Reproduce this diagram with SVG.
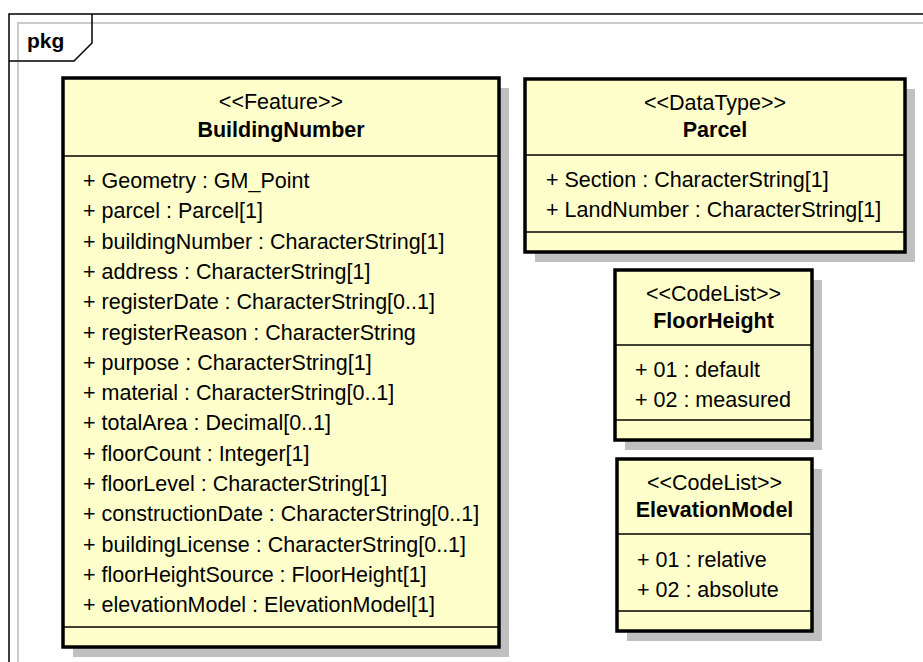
<svg xmlns="http://www.w3.org/2000/svg" width="923" height="662" viewBox="0 0 923 662">
<style>
text{font-family:"Liberation Sans",Arial,sans-serif;font-size:21.5px;fill:#000}
.b{font-weight:bold}
.c{text-anchor:middle}
.p{font-size:21px}
.box{fill:#ffffcc;stroke:#000;stroke-width:3.5}
.sh{fill:#c0c0c0}
.div{stroke:#000;stroke-width:1.5}
.frame{fill:none;stroke:#000;stroke-width:1.5}
.inner{fill:none;stroke:#cacaca;stroke-width:2}
</style>
<rect width="923" height="662" fill="#fff"/>
<g id="package">
<path class="inner" d="M18,670 V23 H930"/>
<path class="frame" d="M9,670 V14 H930"/>
<path class="frame" d="M9,61 H74 L92,43 V14"/>
<text class="b p" x="27" y="48">pkg</text>
</g>
<g id="BuildingNumber">
<rect class="sh" x="73" y="88" width="436" height="569"/>
<rect class="box" x="63" y="78" width="436" height="569"/>
<line class="div" x1="63" y1="156" x2="499" y2="156"/>
<line class="div" x1="63" y1="627" x2="499" y2="627"/>
<text class="c" x="281" y="109">&lt;&lt;Feature&gt;&gt;</text>
<text class="b c" x="281" y="137">BuildingNumber</text>
<text x="83" y="188">+ Geometry : GM_Point</text>
<text x="83" y="218">+ parcel : Parcel[1]</text>
<text x="83" y="249">+ buildingNumber : CharacterString[1]</text>
<text x="83" y="279">+ address : CharacterString[1]</text>
<text x="83" y="309">+ registerDate : CharacterString[0..1]</text>
<text x="83" y="340">+ registerReason : CharacterString</text>
<text x="83" y="370">+ purpose : CharacterString[1]</text>
<text x="83" y="400">+ material : CharacterString[0..1]</text>
<text x="83" y="430">+ totalArea : Decimal[0..1]</text>
<text x="83" y="461">+ floorCount : Integer[1]</text>
<text x="83" y="491">+ floorLevel : CharacterString[1]</text>
<text x="83" y="521">+ constructionDate : CharacterString[0..1]</text>
<text x="83" y="552">+ buildingLicense : CharacterString[0..1]</text>
<text x="83" y="582">+ floorHeightSource : FloorHeight[1]</text>
<text x="83" y="612">+ elevationModel : ElevationModel[1]</text>
</g>
<g id="Parcel">
<rect class="sh" x="535" y="89" width="380" height="173"/>
<rect class="box" x="525" y="79" width="380" height="173"/>
<line class="div" x1="525" y1="155" x2="905" y2="155"/>
<line class="div" x1="525" y1="232" x2="905" y2="232"/>
<text class="c" x="715" y="110">&lt;&lt;DataType&gt;&gt;</text>
<text class="b c" x="715" y="137">Parcel</text>
<text x="546" y="187">+ Section : CharacterString[1]</text>
<text x="546" y="217">+ LandNumber : CharacterString[1]</text>
</g>
<g id="FloorHeight">
<rect class="sh" x="625" y="280" width="197" height="170"/>
<rect class="box" x="615" y="270" width="197" height="170"/>
<line class="div" x1="615" y1="345" x2="812" y2="345"/>
<line class="div" x1="615" y1="420" x2="812" y2="420"/>
<text class="c" x="713.5" y="301">&lt;&lt;CodeList&gt;&gt;</text>
<text class="b c" x="713.5" y="328">FloorHeight</text>
<text x="635" y="377">+ 01 : default</text>
<text x="635" y="407">+ 02 : measured</text>
</g>
<g id="ElevationModel">
<rect class="sh" x="627" y="469" width="195" height="172"/>
<rect class="box" x="617" y="459" width="195" height="172"/>
<line class="div" x1="617" y1="534" x2="812" y2="534"/>
<line class="div" x1="617" y1="611" x2="812" y2="611"/>
<text class="c" x="714.5" y="490">&lt;&lt;CodeList&gt;&gt;</text>
<text class="b c" x="714.5" y="517">ElevationModel</text>
<text x="637" y="567">+ 01 : relative</text>
<text x="637" y="597">+ 02 : absolute</text>
</g>
<g id="connectors"></g>
</svg>
